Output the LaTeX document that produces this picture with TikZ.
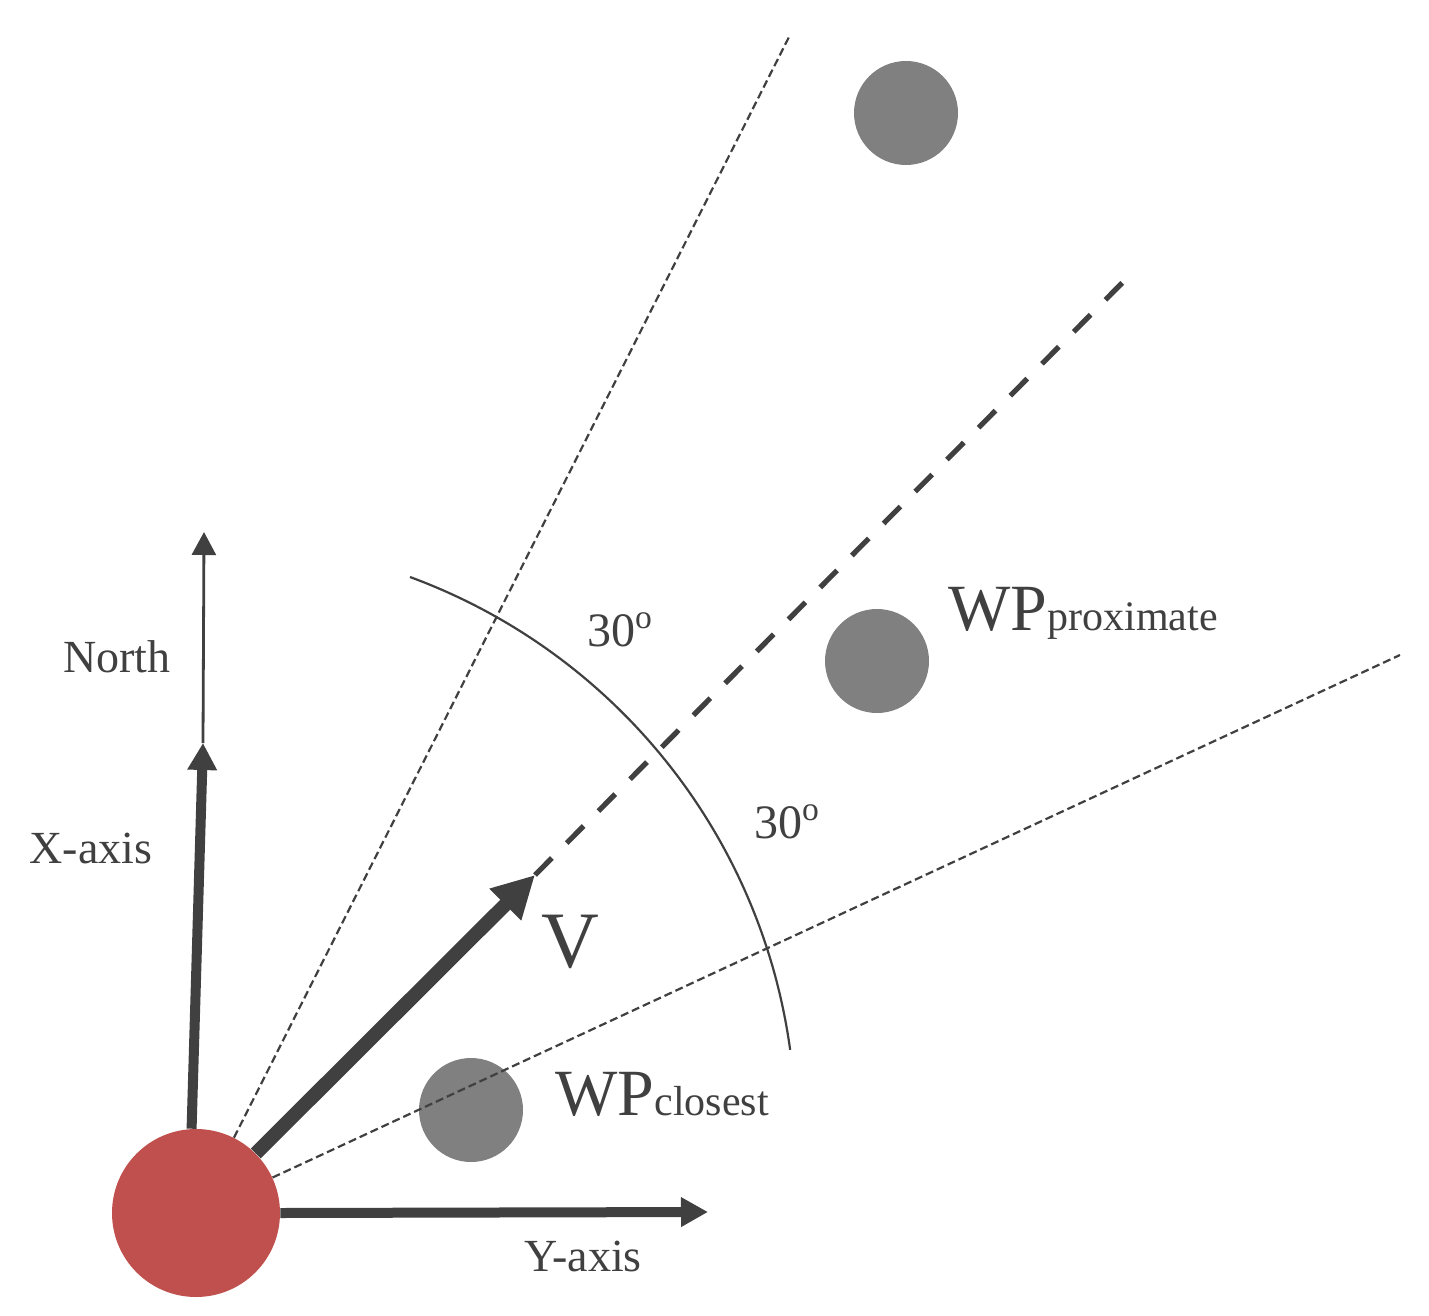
\documentclass[tikz,border=0pt]{standalone}
\usepackage{fontspec}
\setmainfont{Liberation Serif}
\usetikzlibrary{arrows.meta}

\definecolor{linegray}{RGB}{64,64,64}
\definecolor{wpgray}{RGB}{128,128,128}
\definecolor{egored}{RGB}{192,80,77}

\tikzset{
  egodot/.style={circle,fill=egored,inner sep=0pt,minimum size=84pt},
  wpdot/.style={circle,fill=wpgray,inner sep=0pt,minimum size=52pt},
  axisarrow/.style={draw=linegray,line width=5pt,-{Triangle[length=13.5pt,width=14pt]},color=linegray},
  thinarrow/.style={draw=linegray,line width=1.4pt,-{Triangle[length=11.5pt,width=12pt]},color=linegray},
  sector/.style={draw=linegray,line width=1.1pt,dash pattern=on 4pt off 2pt},
  heading/.style={draw=linegray,line width=2.6pt,dash pattern=on 12pt off 10.5pt},
  lbl/.style={text=linegray,inner sep=0.75pt,font=\fontsize{23}{26}\selectfont}
}

\begin{document}
\begin{tikzpicture}[x=0.5pt,y=0.5pt,yscale=-1,xscale=1]
\useasboundingbox (0,0) rectangle (1429,1316);

%Shape: Circle (waypoints)
\node[wpdot] (wpfar) at (906,113) {};
\node[wpdot] (wpprox) at (877,661) {};
\node[wpdot] (wpclose) at (471,1110) {};
%Shape: Circle (vehicle)
\node[egodot] (ego) at (196,1213) {};

% free ends
\coordinate (ntip) at (204,532);
\coordinate (xtip) at (203,743);
\coordinate (ytip) at (708,1212);
\coordinate (vtip) at (535,875);
\coordinate (headend) at (1130,275);
\coordinate (leftend) at (790,35);
\coordinate (rightend) at (1400,655);
\coordinate (arcstart) at (410,577);

%Straight Lines (sector bounds)
\draw[sector] (ego) -- (leftend);
\draw[sector] (ego) -- (rightend);
%Straight Lines (heading)
\draw[heading] (vtip) -- (headend);
%Arc
\draw[draw=linegray,line width=1.1pt] (arcstart) arc[start angle=-69.8,end angle=-7.8,radius=589];

%Arrows
\draw[thinarrow] (xtip) -- (ntip);
\draw[axisarrow] (ego.93) -- (xtip);
\draw[axisarrow] (ego.east) -- (ytip);
\draw[draw=linegray,line width=7pt,-{Triangle[length=21pt,width=21pt]},color=linegray] (ego) -- (vtip);

% Text Node
\node[lbl] (lblnorth) at (117,657) {North};
% Text Node
\node[lbl] (lblx) at (91,848) {X-axis};
% Text Node
\node[lbl] (lbly) at (583,1256) {Y-axis};
% Text Node
\node[text=linegray,inner sep=0.75pt,font=\fontsize{40}{44}\selectfont] (lblv) at (570,942) {V};
% Text Node
\node[lbl,font=\fontsize{24}{27}\selectfont] (lblup) at (620,630) {30\textsuperscript{o}};
% Text Node
\node[lbl,font=\fontsize{24}{27}\selectfont] (lbldown) at (787,822) {30\textsuperscript{o}};
% Text Node
\node[text=linegray,inner sep=0pt,anchor=base west,font=\fontsize{33}{36}\selectfont] (lblprox) at (948,630) {WP{\fontsize{21}{23}\selectfont proximate}};
% Text Node
\node[text=linegray,inner sep=0pt,anchor=base west,font=\fontsize{33}{36}\selectfont] (lblclose) at (555,1115) {WP{\fontsize{21}{23}\selectfont closest}};

\end{tikzpicture}
\end{document}
